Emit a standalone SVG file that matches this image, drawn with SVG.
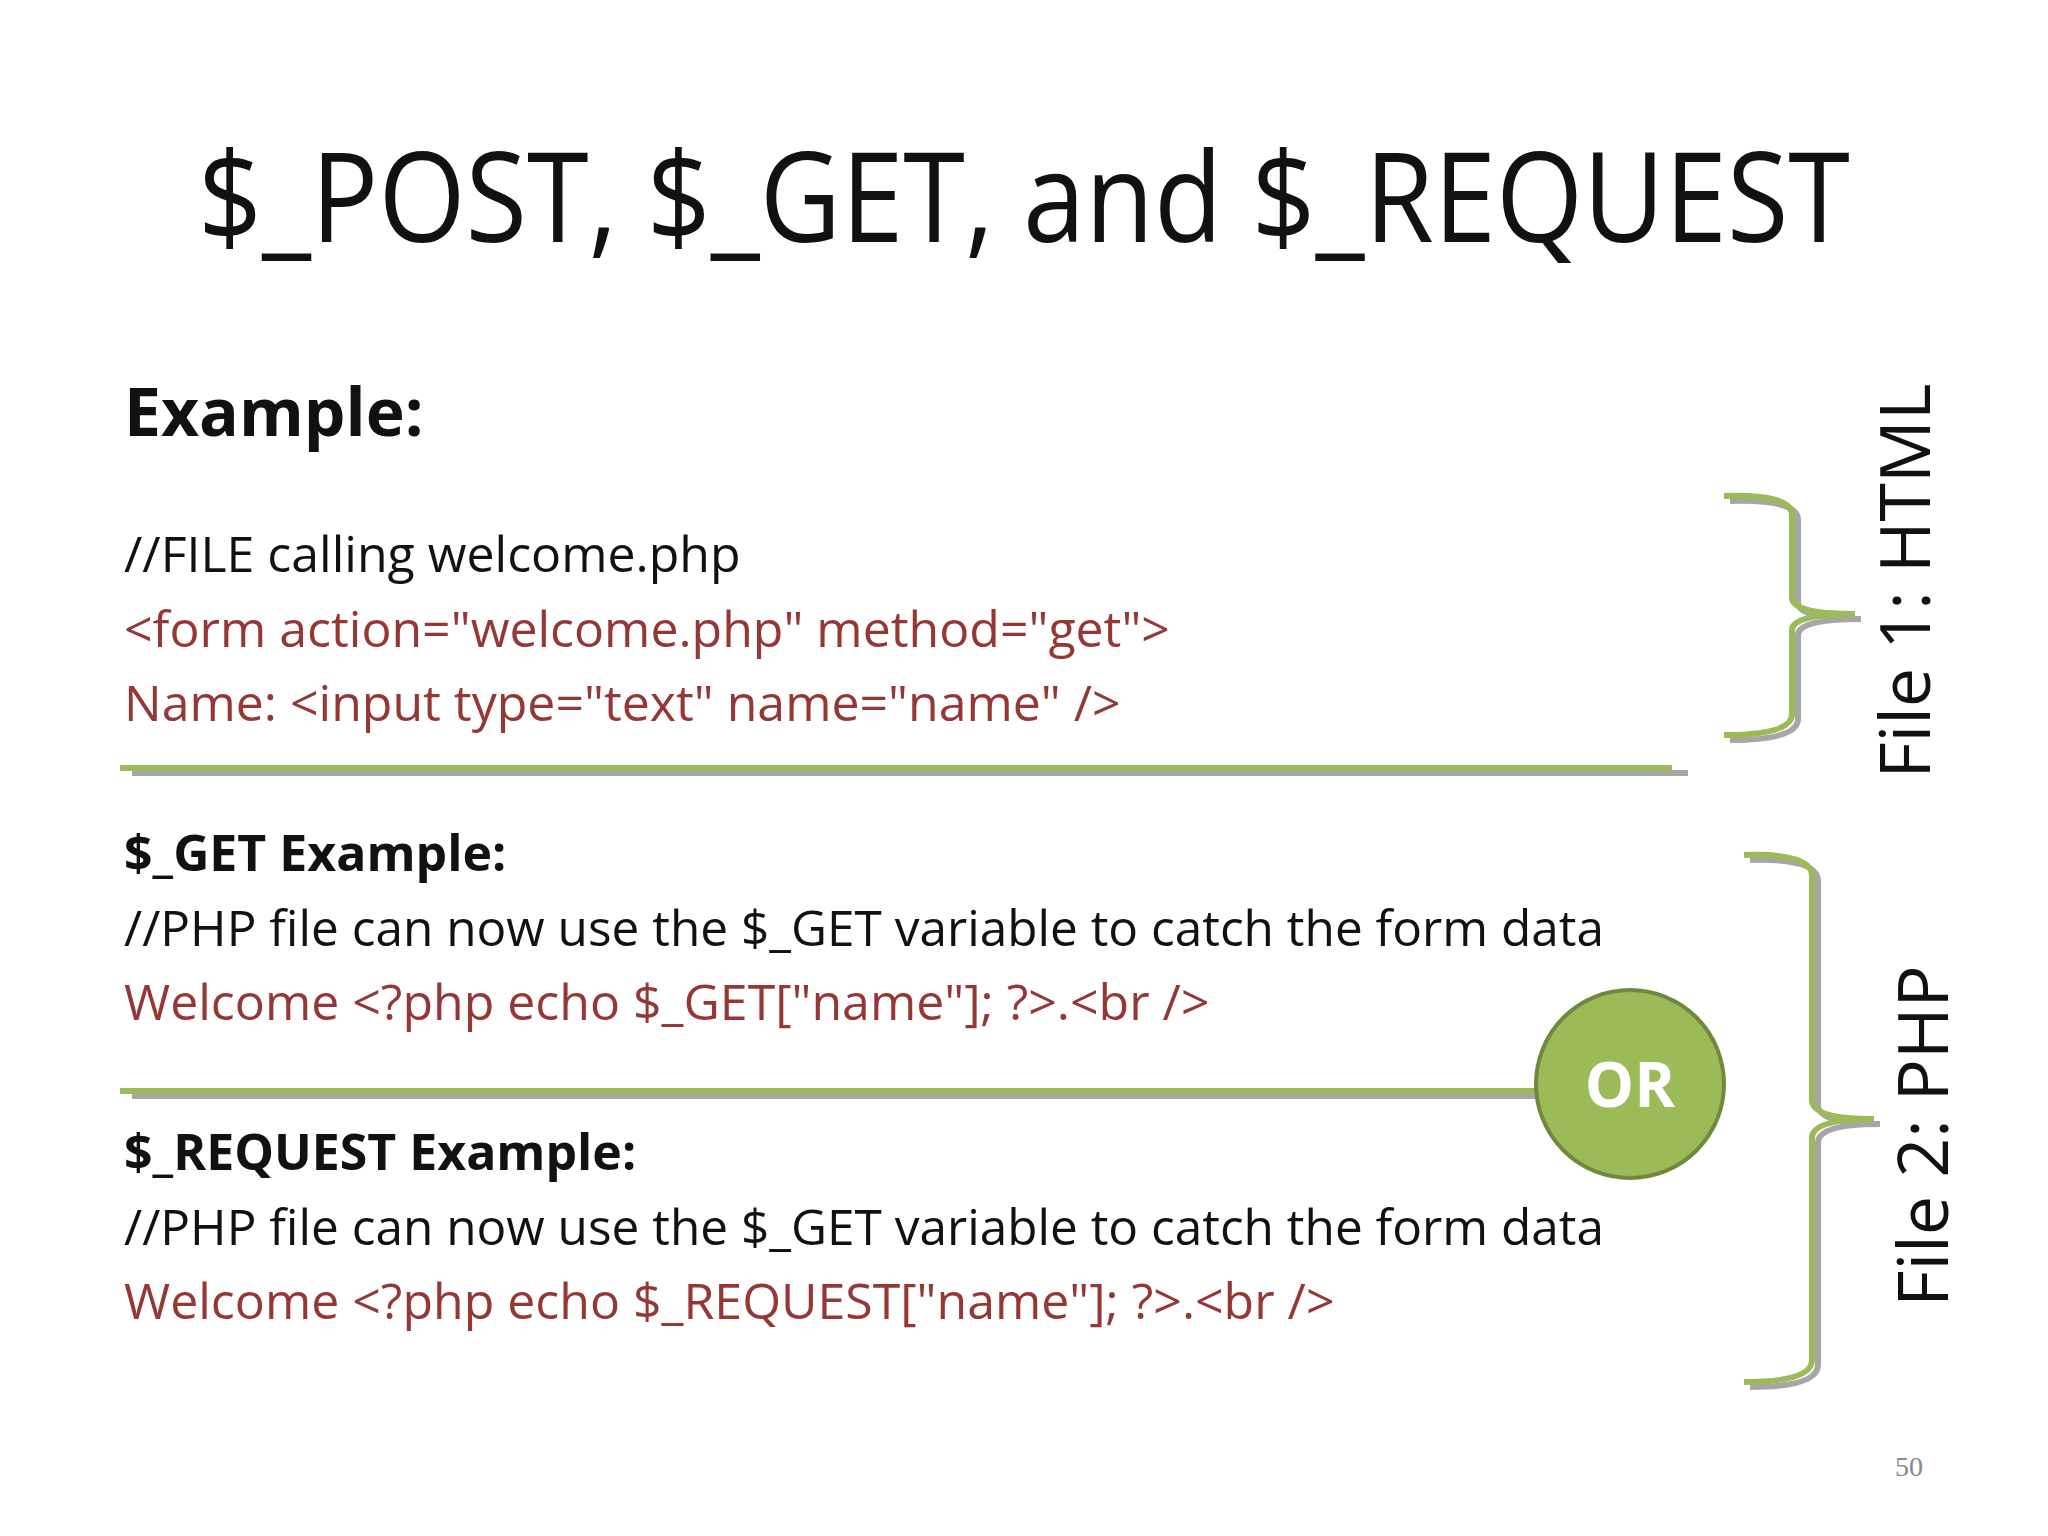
<svg xmlns="http://www.w3.org/2000/svg" width="2048" height="1536" viewBox="0 0 2048 1536">
<style>
text{font-family:"Open Sans","Noto Sans","Liberation Sans",sans-serif}
.t{font-size:50px;fill:#111}
.r{font-size:50px;fill:#953735}
.b{font-size:50px;font-weight:bold;fill:#111}
.gl{stroke:#9BBB59;stroke-width:6;fill:none}
.sh{stroke:#A6A6A6;stroke-width:6;fill:none}
</style>
<rect width="2048" height="1536" fill="#fff"/>
<text x="1024" y="242" text-anchor="middle" font-size="124" fill="#111" textLength="1652" lengthAdjust="spacingAndGlyphs">$_POST, $_GET, and $_REQUEST</text>
<text x="124" y="436" font-size="66" font-weight="bold" fill="#111">Example:</text>
<text class="t" x="124" y="572">//FILE calling welcome.php</text>
<text class="r" x="124" y="647">&lt;form action="welcome.php" method="get"&gt;</text>
<text class="r" x="124" y="721">Name: &lt;input type="text" name="name" /&gt;</text>
<text class="b" x="124" y="871">$_GET Example:</text>
<text class="t" x="124" y="946" textLength="1480" lengthAdjust="spacingAndGlyphs">//PHP file can now use the $_GET variable to catch the form data</text>
<text class="r" x="124" y="1020">Welcome &lt;?php echo $_GET["name"]; ?&gt;.&lt;br /&gt;</text>
<text class="b" x="124" y="1170">$_REQUEST Example:</text>
<text class="t" x="124" y="1245" textLength="1480" lengthAdjust="spacingAndGlyphs">//PHP file can now use the $_GET variable to catch the form data</text>
<text class="r" x="124" y="1319">Welcome &lt;?php echo $_REQUEST["name"]; ?&gt;.&lt;br /&gt;</text>
<g id="connectors">
<line class="sh" x1="132" y1="773" x2="1688" y2="773"/>
<line class="gl" x1="120" y1="768" x2="1672" y2="768"/>
<line class="sh" x1="132" y1="1096" x2="1560" y2="1096"/>
<line class="gl" x1="120" y1="1091" x2="1545" y2="1091"/>
</g>
<g id="brace1" transform="translate(6,5)"><path class="sh" d="M1724,496 Q1792,494 1792,515 L1792,598 Q1792,614 1855,614 Q1792,614 1792,630 L1792,714 Q1792,735 1724,735"/></g>
<g id="brace1g"><path class="gl" d="M1724,496 Q1792,494 1792,515 L1792,598 Q1792,614 1855,614 Q1792,614 1792,630 L1792,714 Q1792,735 1724,735"/></g>
<g id="brace2" transform="translate(6,5)"><path class="sh" d="M1744,855 Q1812,853 1812,876 L1812,1100 Q1812,1119 1874,1119 Q1812,1119 1812,1138 L1812,1360 Q1812,1382 1744,1382"/></g>
<g id="brace2g"><path class="gl" d="M1744,855 Q1812,853 1812,876 L1812,1100 Q1812,1119 1874,1119 Q1812,1119 1812,1138 L1812,1360 Q1812,1382 1744,1382"/></g>
<g id="or"><circle cx="1630" cy="1084" r="94" fill="#9BBB59" stroke="#71893F" stroke-width="4"/>
<text x="1630" y="1107" text-anchor="middle" font-size="62" font-weight="bold" fill="#fff">OR</text></g>
<text transform="translate(1930,581) rotate(-90)" text-anchor="middle" font-size="70" fill="#111">File 1: HTML</text>
<text transform="translate(1948,1136) rotate(-90)" text-anchor="middle" font-size="70" fill="#111">File 2: PHP</text>
<text x="1909" y="1476" text-anchor="middle" font-size="28" fill="#888" style="font-family:'Liberation Serif',serif">50</text>
</svg>
